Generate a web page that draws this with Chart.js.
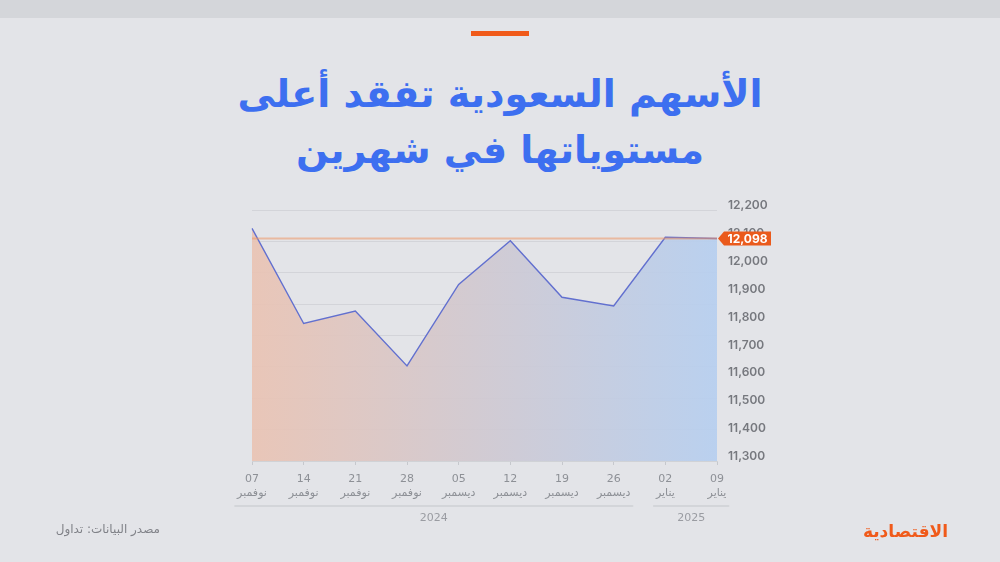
<!DOCTYPE html>
<html lang="ar">
<head>
<meta charset="utf-8">
<title>الأسهم السعودية تفقد أعلى مستوياتها في شهرين</title>
<script src="https://cdn.jsdelivr.net/npm/chart.js@4.4.1/dist/chart.umd.min.js"></script>
<style>
  html, body { margin: 0; padding: 0; }
  body {
    width: 1000px; height: 562px; overflow: hidden; position: relative;
    background: #e3e4e8;
    font-family: 'DejaVu Sans', sans-serif;
  }
  .topbar { position: absolute; left: 0; top: 0; width: 1000px; height: 18px; background: #d4d6da; }
  .dash { position: absolute; left: 471px; top: 31px; width: 58px; height: 5px; background: #f05a1a; }
  h1 {
    position: absolute; left: 0; top: 66px; width: 1000px; margin: 0;
    text-align: center; direction: rtl;
    font-family: 'DejaVu Sans', sans-serif; font-weight: bold;
    font-size: 38px; line-height: 56px; color: #3d6ff0;
  }
  #chart { position: absolute; left: 0; top: 0; }
  .source {
    position: absolute; left: 0; top: 522px; width: 160px;
    text-align: right; direction: rtl;
    font-size: 12px; color: #808288;
  }
  .logo {
    position: absolute; left: 800px; top: 521px; width: 148px;
    text-align: right; direction: rtl;
    font-size: 17px; font-weight: bold; color: #f05a1a;
  }
</style>
</head>
<body>
<div class="topbar"></div>
<div class="dash"></div>
<h1>الأسهم السعودية تفقد أعلى<br>مستوياتها في شهرين</h1>
<canvas id="chart" width="1000" height="562"></canvas>
<div class="source">مصدر البيانات: تداول</div>
<div class="logo">الاقتصادية</div>

<script>
// Weekly closes of the Saudi main index (TASI)
const days   = ['07', '14', '21', '28', '05', '12', '19', '26', '02', '09'];
const months = ['نوفمبر', 'نوفمبر', 'نوفمبر', 'نوفمبر', 'ديسمبر', 'ديسمبر', 'ديسمبر', 'ديسمبر', 'يناير', 'يناير'];
const closes = [12134, 11793, 11838, 11641, 11933, 12090, 11887, 11856, 12102, 12098];
const latestClose = 12098;

// Value axis
const yMin = 11300;
const yMax = 12200;
const yStep = 100;

// Year groups under the date labels (first and last category index)
const years     = ['2024', '2025'];
const yearFirst = [0, 8];
const yearLast  = [7, 9];

// Background grid divisions
const gridDivisions = 8;

const labelFont = "'DejaVu Sans', sans-serif";
const numberFont = "Inter, 'DejaVu Sans', sans-serif";

const fmt = v => Number(v).toLocaleString('en-US');

// Horizontal orange line at the latest close with a value tag on the axis
const latestLine = {
  id: 'latestLine',
  afterDraw(chart) {
    const { ctx, chartArea: a, scales: { y } } = chart;
    const py = Math.round(y.getPixelForValue(latestClose)) + 0.5;
    ctx.save();
    ctx.strokeStyle = 'rgba(238,150,100,0.55)';
    ctx.lineWidth = 2;
    ctx.beginPath();
    ctx.moveTo(a.left, py);
    ctx.lineTo(a.right, py);
    ctx.stroke();

    const h = 14, w = 47, tip = a.right + 1, bx = a.right + 7;
    ctx.fillStyle = '#ea5a1c';
    ctx.beginPath();
    ctx.moveTo(tip, py);
    ctx.lineTo(bx, py - h / 2);
    ctx.lineTo(bx + w, py - h / 2);
    ctx.lineTo(bx + w, py + h / 2);
    ctx.lineTo(bx, py + h / 2);
    ctx.closePath();
    ctx.fill();

    ctx.fillStyle = '#ffffff';
    ctx.font = "bold 12px " + numberFont;
    ctx.textAlign = 'center';
    ctx.textBaseline = 'middle';
    ctx.fillText(fmt(latestClose), bx + w / 2, py + 0.5);
    ctx.restore();
  }
};

// Year brackets drawn under the date labels
const yearBrackets = {
  id: 'yearBrackets',
  afterDraw(chart) {
    const { ctx, chartArea: a, scales: { x } } = chart;
    ctx.save();
    ctx.font = "11px " + labelFont;
    const lineY = a.bottom + 45;
    const textY = a.bottom + 57;
    years.forEach((yr, i) => {
      const wa = ctx.measureText(months[yearFirst[i]]).width;
      const wb = ctx.measureText(months[yearLast[i]]).width;
      const x0 = x.getPixelForValue(yearFirst[i]) - wa / 2 - 2;
      const x1 = x.getPixelForValue(yearLast[i]) + wb / 2 + 2;
      ctx.strokeStyle = '#d3d5d9';
      ctx.lineWidth = 2;
      ctx.lineCap = 'round';
      ctx.beginPath();
      ctx.moveTo(x0, lineY);
      ctx.lineTo(x1, lineY);
      ctx.stroke();
      ctx.fillStyle = '#9a9ca2';
      ctx.textAlign = 'center';
      ctx.textBaseline = 'middle';
      ctx.fillText(yr, (x0 + x1) / 2, textY);
    });
    ctx.restore();
  }
};

function areaGradient(context) {
  const chart = context.chart;
  const a = chart.chartArea;
  if (!a) return 'rgba(200,200,220,0.8)';
  const g = chart.ctx.createLinearGradient(a.left, 0, a.right, 0);
  g.addColorStop(0, 'rgba(233,196,181,0.95)');
  g.addColorStop(1, 'rgba(183,207,239,0.95)');
  return g;
}

new Chart(document.getElementById('chart'), {
  type: 'line',
  data: {
    labels: days.map((d, i) => [d, months[i]]),
    datasets: [{
      data: closes,
      yAxisID: 'y',
      borderColor: '#6270cf',
      borderWidth: 1.4,
      backgroundColor: areaGradient,
      fill: 'start',
      tension: 0,
      pointRadius: 0,
      pointHoverRadius: 0
    }]
  },
  options: {
    responsive: false,
    devicePixelRatio: 1,
    animation: false,
    events: [],
    layout: { padding: { left: 252, right: 223, top: 210, bottom: 0 } },
    plugins: {
      legend: { display: false },
      title: { display: false },
      tooltip: { enabled: false }
    },
    scales: {
      x: {
        type: 'category',
        offset: false,
        grid: { display: true, drawOnChartArea: false, drawTicks: true, tickLength: 4, color: '#c6c8cd' },
        border: { display: true, color: '#d0d2d6' },
        ticks: {
          color: '#8d9096',
          font: { family: labelFont, size: 11, lineHeight: 1.2 },
          padding: 8,
          maxRotation: 0,
          autoSkip: false
        },
        afterFit(s) { s.height = 101; }
      },
      y: {
        position: 'right',
        min: yMin,
        max: yMax,
        grid: { display: false, drawTicks: false },
        border: { display: false },
        ticks: {
          stepSize: yStep,
          callback: v => fmt(v),
          color: '#76787e',
          font: { family: numberFont, size: 12, weight: '600' },
          padding: 11,
          labelOffset: -4.5
        },
        afterFit(s) { s.width = 60; }
      },
      g: {
        position: 'left',
        min: 0,
        max: gridDivisions,
        z: 1,
        ticks: { display: false, stepSize: 1 },
        grid: { color: 'rgba(95,100,118,0.12)', drawTicks: false },
        border: { display: false }
      }
    }
  },
  plugins: [latestLine, yearBrackets]
});
</script>
</body>
</html>
